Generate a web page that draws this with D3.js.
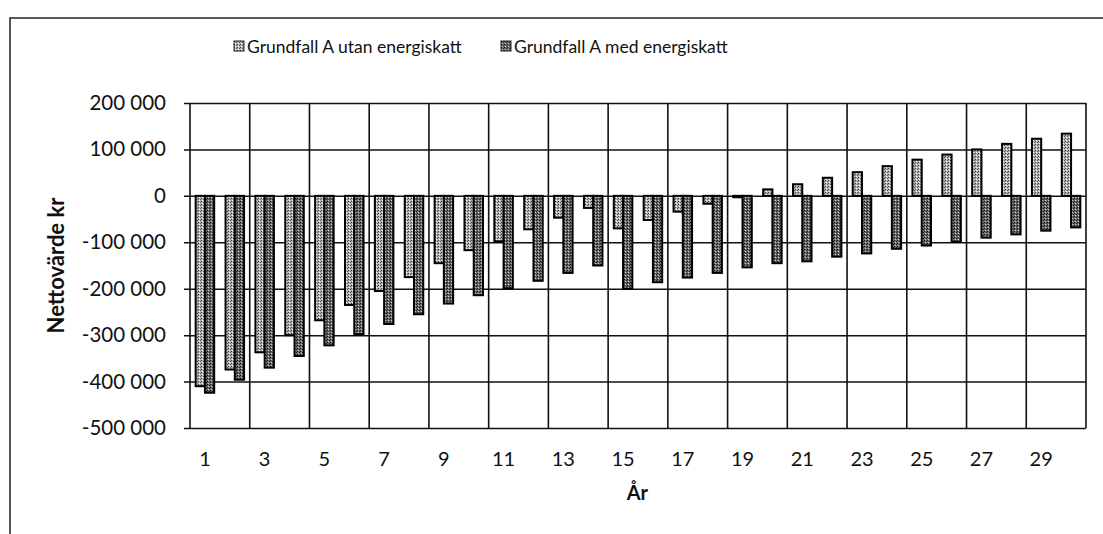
<!DOCTYPE html>
<html>
<head>
<meta charset="utf-8">
<script src="https://cdn.jsdelivr.net/npm/d3@7"></script>
<style>
  body { margin: 0; background: #fff; }
  text { font-family: Lato, 'Open Sans', sans-serif; fill: #111; }
</style>
</head>
<body>
<div id="chart"></div>
<script>
const years = d3.range(1, 31)
const seriesNames = ['Grundfall A utan energiskatt', 'Grundfall A med energiskatt']
const utanSkatt = [-410000, -374000, -337000, -300000, -268000, -235000, -205000, -175000, -145000, -117000,
	-98000, -72000, -47000, -26000, -70000, -52000, -34000, -17000, -3000, 14000,
	25000, 39000, 51000, 64000, 78000, 89000, 100000, 112000, 123000, 134000]
const medSkatt = [-424000, -396000, -370000, -345000, -322000, -298000, -276000, -255000, -232000, -214000,
	-199000, -183000, -166000, -150000, -200000, -186000, -176000, -166000, -154000, -145000,
	-141000, -131000, -124000, -114000, -107000, -99000, -90000, -83000, -75000, -68000]
const yTicks = [200000, 100000, 0, -100000, -200000, -300000, -400000, -500000]
const xLabels = years.filter((d) => d % 2 === 1)

const width = 1103
const height = 534
const svg = d3.select('#chart').append('svg').attr('width', width).attr('height', height)

// dithered fills like the scanned original
const defs = svg.append('defs')
const light = defs.append('pattern').attr('id', 'light').attr('width', 3).attr('height', 3).attr('patternUnits', 'userSpaceOnUse')
light.append('rect').attr('width', 3).attr('height', 3).attr('fill', '#b4b4b4')
light.append('rect').attr('x', 0).attr('y', 0).attr('width', 1).attr('height', 1).attr('fill', '#3a3a3a')
light.append('rect').attr('x', 2).attr('y', 1).attr('width', 1).attr('height', 1).attr('fill', '#5a5a5a')
light.append('rect').attr('x', 1).attr('y', 2).attr('width', 1).attr('height', 1).attr('fill', '#fff')
const dark = defs.append('pattern').attr('id', 'dark').attr('width', 3).attr('height', 3).attr('patternUnits', 'userSpaceOnUse')
dark.append('rect').attr('width', 3).attr('height', 3).attr('fill', '#6a6a6a')
dark.append('rect').attr('x', 0).attr('y', 0).attr('width', 1).attr('height', 1).attr('fill', '#111')
dark.append('rect').attr('x', 2).attr('y', 1).attr('width', 1).attr('height', 1).attr('fill', '#222')
dark.append('rect').attr('x', 1).attr('y', 2).attr('width', 1).attr('height', 1).attr('fill', '#d0d0d0')
const fills = ['url(#light)', 'url(#dark)']

// outer frame (right and bottom edges fall outside the picture)
svg.append('rect').attr('x', 10).attr('y', 18).attr('width', 1110).attr('height', 540)
	.attr('fill', 'none').attr('stroke', '#222').attr('stroke-width', 1.5)

const plotLeft = 190, plotRight = 1086, plotTop = 103, plotBottom = 428

const x = d3.scaleBand().domain(years).range([plotLeft, plotRight]).paddingInner(0.38).paddingOuter(0.19)
const xs = d3.scaleBand().domain([0, 1]).range([0, x.bandwidth()])
const y = d3.scaleLinear().domain([-500000, 200000]).range([plotBottom, plotTop])

const fmt = d3.formatLocale({ decimal: ',', thousands: ' ', grouping: [3], currency: ['', ' kr'], minus: '-' }).format(',')

// horizontal gridlines + y axis
const yAxis = d3.axisLeft(y).tickValues(yTicks).tickFormat(fmt).tickSize(-(plotRight - plotLeft)).tickPadding(24)
const gy = svg.append('g').attr('transform', `translate(${plotLeft},0)`).call(yAxis)
gy.select('.domain').remove()
gy.selectAll('.tick line').attr('stroke', '#111').attr('stroke-width', 1.5).attr('x1', -6)
gy.selectAll('.tick text').style('font-size', '20.5px').attr('fill', '#111')

// vertical gridlines every second year
const vLines = d3.range(0, 31, 2).map((i) => plotLeft + i * x.step())
svg.append('g').selectAll('line').data(vLines).enter().append('line')
	.attr('x1', (d) => d).attr('x2', (d) => d).attr('y1', plotTop).attr('y2', plotBottom)
	.attr('stroke', '#111').attr('stroke-width', 1.6)

// bars
const bars = svg.append('g')
;[utanSkatt, medSkatt].forEach((vals, s) => {
	bars.selectAll(null).data(vals).enter().append('rect')
		.attr('x', (d, i) => x(years[i]) + xs(s))
		.attr('y', (d) => y(Math.max(0, d)))
		.attr('width', xs.bandwidth())
		.attr('height', (d) => Math.abs(y(d) - y(0)))
		.attr('fill', fills[s])
		.attr('stroke', '#000').attr('stroke-width', 2)
})

// x labels
svg.append('g').selectAll('text').data(xLabels).enter().append('text')
	.attr('x', (d) => x(d) + x.bandwidth() / 2).attr('y', plotBottom + 38)
	.attr('text-anchor', 'middle').style('font-size', '20px').text((d) => d)

// axis titles
svg.append('text').attr('x', x(15) + x.bandwidth() + 5).attr('y', plotBottom + 72).attr('text-anchor', 'middle')
	.style('font-size', '20px').style('font-weight', 'bold').text('År')
svg.append('text').attr('transform', `translate(64,${(plotTop + plotBottom) / 2}) rotate(-90)`).attr('text-anchor', 'middle')
	.style('font-size', '22px').style('font-weight', 'bold').text('Nettovärde kr')

// legend
const legendX = [234, 501]
const lg = svg.append('g').selectAll('g').data(seriesNames).enter().append('g')
	.attr('transform', (d, i) => `translate(${legendX[i]},47)`)
lg.append('rect').attr('x', 0).attr('y', -6).attr('width', 10).attr('height', 10)
	.attr('fill', (d, i) => fills[i]).attr('stroke', '#222').attr('stroke-width', 1)
lg.append('text').attr('x', 13).attr('y', 6).style('font-size', '17.5px').text((d) => d)
</script>
</body>
</html>
